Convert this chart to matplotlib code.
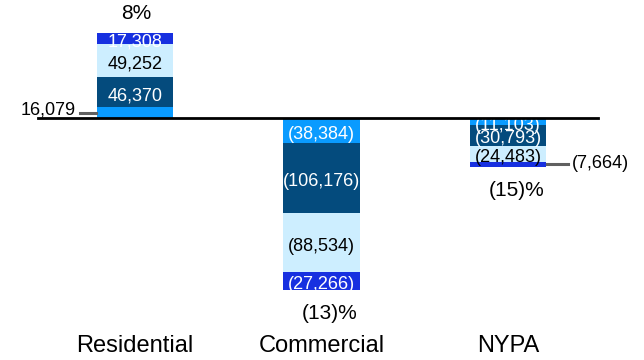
import matplotlib.pyplot as plt
from matplotlib.patches import Rectangle
import numpy as np

plt.rcParams['font.family'] = ['Liberation Sans', 'DejaVu Sans']

# categories and stacked components (thousands, signed)
categories = ['Residential', 'Commercial', 'NYPA']
seg1 = [16079, -38384, -11103]
seg2 = [46370, -106176, -30793]
seg3 = [49252, -88534, -24483]
seg4 = [17308, -27266, -7664]
pct_labels = ['8%', '(13)%', '(15)%']

colors = ['#0A9BFF', '#044B7D', '#CDEEFF', '#1730E0']
text_colors = ['white', 'white', 'black', 'white']


def fmt(v):
    s = f'{abs(v):,.0f}'
    return s if v >= 0 else f'({s})'


fig = plt.figure(figsize=(6.44, 3.6), dpi=100)
ax = fig.add_axes([0, 0, 1, 1])
ax.set_xlim(-0.724, 2.729)
ax.set_ylim(-366700, 178800)
ax.axis('off')

x = np.arange(len(categories))
width = 0.41
segments = [seg1, seg2, seg3, seg4]
totals = np.sum(np.array(segments, dtype=float), axis=0)

# one clip box per stack so labels get cut at the stack ends
clips = []
for i in range(len(categories)):
    r = Rectangle((x[i] - width / 2, min(0, totals[i])), width, abs(totals[i]),
                  transform=ax.transData, visible=False)
    ax.add_patch(r)
    clips.append(r)

base = np.zeros(len(categories))
for k, seg in enumerate(segments):
    vals = np.array(seg, dtype=float)
    bars = ax.bar(x, vals, width, bottom=base, color=colors[k], zorder=2)
    for i, v in enumerate(vals):
        mid = base[i] + v / 2
        # outside labels with a leader line for the small end pieces
        if i == 0 and k == 0:
            ax.plot([x[i] - width / 2 - 0.09, x[i] - width / 2 - 0.005], [mid, mid],
                    color='#606060', lw=2.2, zorder=3)
            ax.text(x[i] - width / 2 - 0.115, mid + 4000, fmt(v), ha='right', va='center',
                    fontsize=13, color='black')
            continue
        if i == 2 and k == 3:
            ax.plot([x[i] + width / 2 + 0.005, x[i] + width / 2 + 0.115], [mid, mid],
                    color='#606060', lw=2.2, zorder=3)
            ax.text(x[i] + width / 2 + 0.135, mid + 1500, fmt(v), ha='left', va='center',
                    fontsize=13, color='black')
            continue
        t = ax.annotate(fmt(v), (x[i], mid), xytext=(0, -2.5), textcoords='offset points',
                        ha='center', va='center', fontsize=13, color=text_colors[k], zorder=4)
        t.set_clip_path(clips[i])
    base = base + vals

# percentage labels at the end of each stack
for i, p in enumerate(pct_labels):
    total = base[i]
    if total > 0:
        off = (1, 14)
    else:
        off = (6, -17)
    ax.annotate(p, (x[i], total), xytext=off, textcoords='offset points',
                ha='center', va='center', fontsize=15)

# zero line
ax.plot([-0.52, 2.48], [0, 0], color='black', lw=2, zorder=5)

for i, c in enumerate(categories):
    ax.text(x[i], -346000, c, ha='center', va='center', fontsize=17)

fig.savefig('out.png', dpi=100)
